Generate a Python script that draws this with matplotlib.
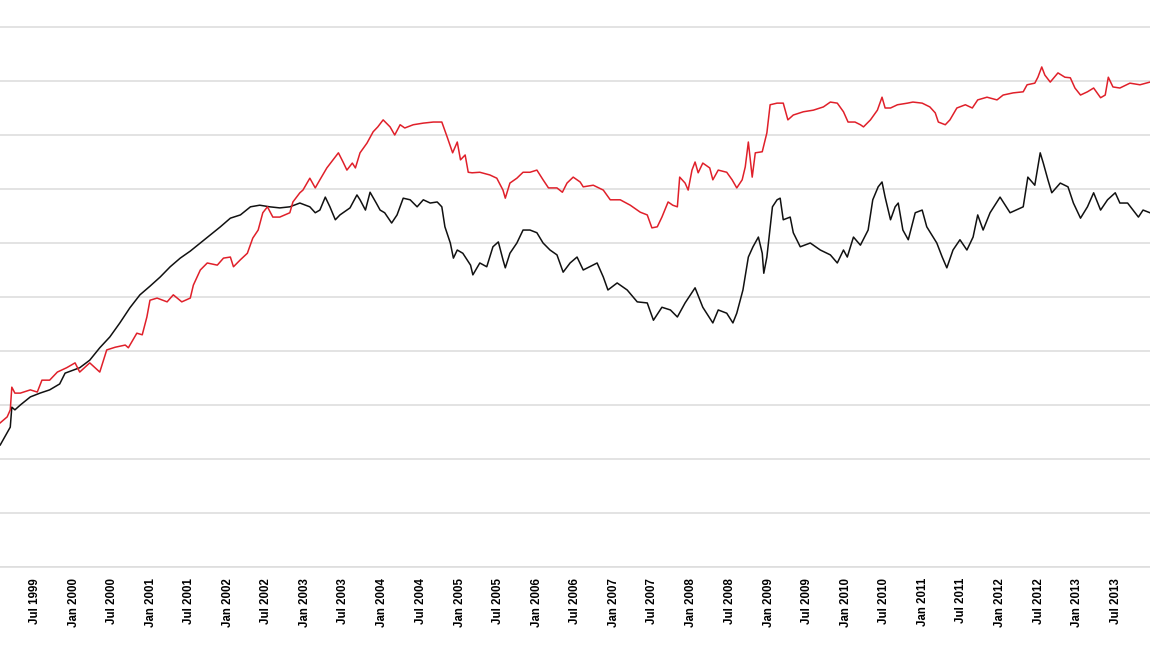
import matplotlib
matplotlib.use("Agg")
import matplotlib.pyplot as plt
import matplotlib.dates as mdates
import pandas as pd
import numpy as np

# ---- data (decimal year, value in gridline units) ----
black_t = [1999.05,1999.18,1999.20,1999.24,1999.31,1999.44,1999.565,1999.69,1999.82,1999.89,
           2000.08,2000.21,2000.34,2000.47,2000.60,2000.73,2000.86,2000.99,2001.12,2001.25,
           2001.38,2001.51,2001.64,2001.77,2001.90,2002.03,2002.16,2002.29,2002.41,2002.54,
           2002.67,2002.80,2002.93,2003.06,2003.13,2003.19,2003.26,2003.32,2003.39,2003.45,
           2003.58,2003.67,2003.71,2003.78,2003.84,2003.92,2003.97,2004.03,2004.12,2004.19,
           2004.27,2004.36,2004.45,2004.53,2004.62,2004.71,2004.77,2004.81,2004.88,2004.92,
           2004.97,2005.04,2005.14,2005.17,2005.26,2005.35,2005.43,2005.50,2005.56,2005.59,
           2005.65,2005.74,2005.82,2005.91,2006.00,2006.08,2006.17,2006.26,2006.34,2006.43,
           2006.52,2006.60,2006.78,2006.86,2006.92,2007.04,2007.17,2007.30,2007.43,2007.51,
           2007.62,2007.73,2007.82,2007.92,2008.05,2008.15,2008.28,2008.35,2008.46,2008.54,
           2008.59,2008.67,2008.74,2008.80,2008.87,2008.92,2008.94,2008.98,2009.05,2009.11,
           2009.15,2009.19,2009.28,2009.32,2009.41,2009.54,2009.67,2009.80,2009.89,2009.97,
           2010.02,2010.10,2010.19,2010.29,2010.35,2010.42,2010.47,2010.51,2010.58,2010.64,
           2010.68,2010.74,2010.81,2010.90,2010.99,2011.05,2011.18,2011.25,2011.31,2011.39,
           2011.48,2011.57,2011.65,2011.71,2011.78,2011.87,2012.00,2012.13,2012.30,2012.36,
           2012.45,2012.52,2012.56,2012.62,2012.67,2012.78,2012.88,2012.95,2013.04,2013.13,
           2013.21,2013.30,2013.39,2013.49,2013.55,2013.65,2013.72,2013.79,2013.85,2013.94]
black_v = [2.26,2.59,2.96,2.91,3.00,3.15,3.22,3.28,3.39,3.59,
           3.69,3.83,4.06,4.26,4.52,4.80,5.04,5.20,5.37,5.56,
           5.72,5.85,6.00,6.15,6.30,6.46,6.52,6.67,6.70,6.67,
           6.65,6.67,6.74,6.67,6.56,6.61,6.85,6.67,6.43,6.52,
           6.65,6.89,6.80,6.61,6.94,6.74,6.61,6.56,6.37,6.52,
           6.83,6.80,6.67,6.80,6.74,6.76,6.67,6.30,6.00,5.72,
           5.87,5.81,5.59,5.41,5.63,5.56,5.93,6.02,5.69,5.54,
           5.81,6.00,6.24,6.24,6.19,6.00,5.87,5.78,5.46,5.63,
           5.74,5.50,5.63,5.37,5.13,5.26,5.13,4.91,4.89,4.57,
           4.81,4.76,4.63,4.89,5.17,4.81,4.52,4.76,4.70,4.52,
           4.70,5.13,5.74,5.93,6.11,5.81,5.44,5.74,6.67,6.80,
           6.83,6.43,6.48,6.19,5.93,6.00,5.87,5.78,5.63,5.87,
           5.74,6.11,5.96,6.24,6.80,7.04,7.13,6.85,6.43,6.67,
           6.74,6.24,6.06,6.56,6.61,6.30,6.00,5.74,5.54,5.87,
           6.06,5.87,6.11,6.52,6.24,6.56,6.85,6.56,6.67,7.22,
           7.07,7.67,7.48,7.17,6.93,7.11,7.04,6.74,6.46,6.67,
           6.93,6.61,6.80,6.93,6.74,6.74,6.61,6.48,6.61,6.56]

red_t = [1999.05,1999.14,1999.18,1999.20,1999.24,1999.31,1999.44,1999.53,1999.59,1999.69,
         1999.79,1999.91,2000.02,2000.08,2000.21,2000.34,2000.43,2000.54,2000.67,2000.71,
         2000.82,2000.89,2000.95,2000.99,2001.08,2001.21,2001.29,2001.40,2001.51,2001.55,
         2001.64,2001.73,2001.86,2001.94,2002.03,2002.07,2002.16,2002.25,2002.32,2002.39,
         2002.45,2002.51,2002.58,2002.67,2002.80,2002.84,2002.93,2002.97,2003.06,2003.13,
         2003.19,2003.28,2003.36,2003.43,2003.49,2003.54,2003.61,2003.65,2003.71,2003.80,
         2003.88,2003.94,2004.01,2004.10,2004.16,2004.23,2004.29,2004.40,2004.53,2004.66,
         2004.77,2004.84,2004.91,2004.97,2005.01,2005.07,2005.11,2005.16,2005.26,2005.39,
         2005.48,2005.56,2005.59,2005.65,2005.74,2005.82,2005.91,2006.00,2006.08,2006.15,
         2006.26,2006.33,2006.39,2006.47,2006.56,2006.60,2006.73,2006.86,2006.95,2007.08,
         2007.21,2007.34,2007.43,2007.49,2007.56,2007.62,2007.70,2007.76,2007.82,2007.85,
         2007.92,2007.96,2008.01,2008.05,2008.09,2008.15,2008.24,2008.28,2008.35,2008.46,
         2008.53,2008.59,2008.66,2008.70,2008.74,2008.79,2008.83,2008.92,2008.98,2009.02,
         2009.11,2009.19,2009.25,2009.32,2009.45,2009.58,2009.71,2009.80,2009.89,2009.97,
         2010.03,2010.12,2010.19,2010.23,2010.32,2010.41,2010.47,2010.51,2010.58,2010.67,
         2010.80,2010.87,2010.99,2011.09,2011.16,2011.20,2011.29,2011.35,2011.44,2011.55,
         2011.64,2011.71,2011.83,2011.96,2012.04,2012.17,2012.30,2012.35,2012.45,2012.49,
         2012.54,2012.58,2012.65,2012.75,2012.84,2012.91,2012.97,2013.04,2013.13,2013.21,
         2013.30,2013.36,2013.40,2013.46,2013.55,2013.68,2013.81,2013.94]
red_v = [2.67,2.78,2.91,3.33,3.22,3.22,3.28,3.24,3.46,3.46,
         3.61,3.69,3.78,3.61,3.78,3.61,4.02,4.07,4.11,4.06,
         4.33,4.30,4.63,4.94,4.98,4.91,5.04,4.91,4.98,5.22,
         5.50,5.63,5.59,5.72,5.74,5.56,5.69,5.81,6.09,6.24,
         6.56,6.67,6.48,6.48,6.56,6.76,6.93,6.98,7.20,7.02,
         7.17,7.39,7.54,7.67,7.50,7.35,7.48,7.39,7.67,7.85,
         8.06,8.15,8.28,8.15,8.00,8.19,8.13,8.19,8.22,8.24,
         8.24,7.96,7.67,7.87,7.54,7.63,7.31,7.30,7.31,7.26,
         7.20,6.98,6.83,7.11,7.20,7.31,7.31,7.35,7.17,7.02,
         7.02,6.94,7.11,7.22,7.13,7.04,7.07,6.98,6.80,6.80,
         6.70,6.57,6.52,6.28,6.30,6.48,6.76,6.70,6.67,7.22,
         7.11,6.98,7.35,7.50,7.30,7.48,7.39,7.17,7.35,7.31,
         7.17,7.02,7.17,7.41,7.87,7.22,7.67,7.69,8.04,8.56,
         8.59,8.59,8.28,8.37,8.43,8.46,8.52,8.61,8.59,8.43,
         8.24,8.24,8.19,8.15,8.28,8.46,8.70,8.50,8.50,8.56,
         8.59,8.61,8.59,8.52,8.41,8.24,8.19,8.28,8.50,8.56,
         8.50,8.65,8.70,8.65,8.74,8.78,8.80,8.93,8.96,9.07,
         9.26,9.11,8.98,9.15,9.07,9.06,8.87,8.74,8.80,8.87,
         8.69,8.74,9.07,8.89,8.87,8.96,8.93,8.98]

x_start, x_end = 1999.047, 2013.94


def to_dates(years):
    years = np.asarray(years, dtype=float)
    base = pd.to_datetime((np.floor(years)).astype(int).astype(str) + "-01-01")
    return base + pd.to_timedelta((years - np.floor(years)) * 365.25, unit="D")


W, H = 1150, 647
fig = plt.figure(figsize=(W / 100, H / 100), dpi=100)
ax_bottom_px, ax_top_px = 567, 5.4
ax = fig.add_axes([0.0, (H - ax_bottom_px) / H, 1.0, (ax_bottom_px - ax_top_px) / H])

ax.plot(to_dates(black_t), black_v, color="#111111", lw=1.1, zorder=3)
ax.plot(to_dates(red_t), red_v, color="#e0202a", lw=1.1, zorder=4)

ax.set_xlim(to_dates([x_start])[0], to_dates([x_end])[0])
ax.set_ylim(0, 10.4)
ax.set_yticks(range(0, 11))
ax.yaxis.grid(True, color="#dedede", lw=1.2)
ax.set_axisbelow(True)
ax.tick_params(axis="y", left=False, labelleft=False)

ax.xaxis.set_major_locator(mdates.MonthLocator(bymonth=[1, 7]))
ax.xaxis.set_major_formatter(mdates.DateFormatter("%b %Y"))
ax.tick_params(axis="x", length=0, pad=8)
for lbl in ax.get_xticklabels():
    lbl.set_rotation(90)
    lbl.set_fontweight("bold")
    lbl.set_fontsize(8.3)
    lbl.set_fontfamily("Liberation Sans")
    lbl.set_ha("center")
    lbl.set_va("top")

for s in ["top", "left", "right"]:
    ax.spines[s].set_visible(False)
ax.spines["bottom"].set_color("#dedede")
ax.spines["bottom"].set_linewidth(1.2)

fig.savefig("out.png", dpi=100)
